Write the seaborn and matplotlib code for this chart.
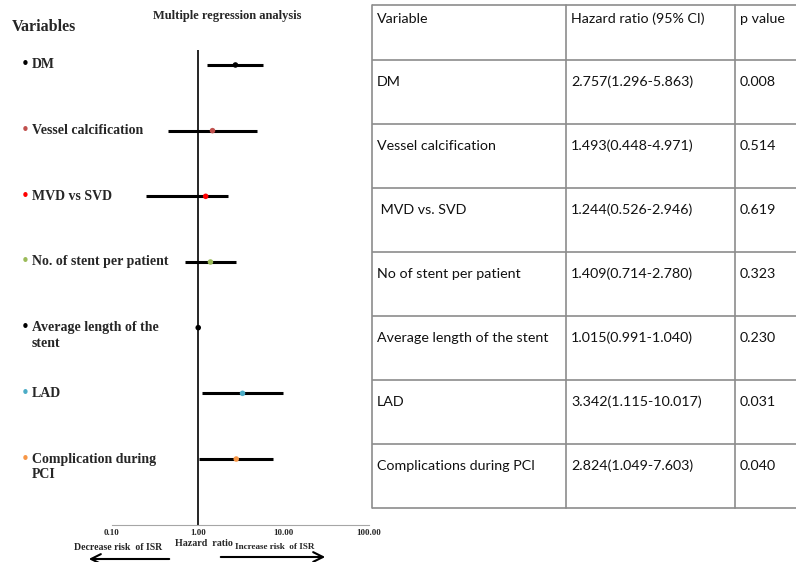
import matplotlib
matplotlib.use("Agg")
import matplotlib.pyplot as plt
import matplotlib.transforms as mtransforms
import pandas as pd
import seaborn as sns

# forest plot values (as drawn)
labels = ["DM", "Vessel calcification", "MVD vs SVD", "No. of stent per patient",
          "Average length of the\nstent", "LAD", "Complication during\nPCI"]
hr = [2.76, 1.49, 1.24, 1.41, 1.015, 3.34, 2.82]
ci_low = [1.30, 0.45, 0.25, 0.71, 0.99, 1.12, 1.05]
ci_high = [5.86, 4.97, 2.25, 2.78, 1.04, 10.02, 7.60]
colors = ["#000000", "#c0504d", "#ff0000", "#9bbb59", "#000000", "#4bacc6", "#f79646"]
x_ticks = [0.1, 1, 10, 100]
x_ticklabels = ["0.10", "1.00", "10.00", "100.00"]

# table values
tab_header = ["Variable", "Hazard ratio (95% CI)", "p value"]
tab_variable = ["DM", "Vessel calcification", " MVD vs. SVD", "No of stent per patient",
                "Average length of the stent", "LAD", "Complications during PCI"]
tab_hr = ["2.757(1.296-5.863)", "1.493(0.448-4.971)", "1.244(0.526-2.946)",
          "1.409(0.714-2.780)", "1.015(0.991-1.040)", "3.342(1.115-10.017)",
          "2.824(1.049-7.603)"]
tab_p = ["0.008", "0.514", "0.619", "0.323", "0.230", "0.031", "0.040"]

W, H = 796, 562
SERIF = "Liberation Serif"
TABLE_FONT = "Lato"

sns.set_style("white")
plt.rcParams['font.family'] = [SERIF, 'DejaVu Sans']

df = pd.DataFrame({"label": labels, "hr": hr, "low": ci_low, "high": ci_high,
                   "row": range(len(labels))})

fig = plt.figure(figsize=(W / 100, H / 100), dpi=100)
ax = fig.add_axes([112 / W, 1 - 525 / H, 257 / W, 475 / H])

# CI lines then points
ax.hlines(df["row"], df["low"], df["high"], color="black", lw=2.2, zorder=2)
sns.scatterplot(data=df, x="hr", y="row", hue="label",
                palette=dict(zip(labels, colors)), s=16, linewidth=0,
                legend=False, ax=ax, zorder=3)
ax.axvline(1, color="black", lw=1.2, zorder=1)

ax.set_xscale("log")
ax.set_xlim(0.1, 100)
ax.set_ylim(7.005, -0.228)
ax.set_xticks(x_ticks)
ax.set_xticklabels(x_ticklabels, fontsize=6.5, fontweight="bold", family=SERIF)
ax.minorticks_off()
ax.set_yticks([])
ax.set_xlabel("")
ax.set_ylabel("")
for side in ["top", "right", "left"]:
    ax.spines[side].set_visible(False)
ax.spines["bottom"].set_color("#a6a6a6")
ax.spines["bottom"].set_linewidth(0.8)
ax.tick_params(axis="x", direction="in", length=3, color="#a6a6a6", pad=3)
ax.patch.set_alpha(0)

# row labels with coloured bullets
trans = mtransforms.blended_transform_factory(fig.transFigure, ax.transData)
for i, (lab, col) in enumerate(zip(labels, colors)):
    ax.text(21 / W, i, "\u2022", color=col, fontsize=11, va="center", ha="left",
            transform=trans, family=["DejaVu Sans"])
    for k, line in enumerate(lab.split("\n")):
        ax.text(32 / W, i + 0.24 * k, line, fontsize=10, fontweight="bold",
                va="center", ha="left", transform=trans, family=SERIF)

fig.text(12 / W, 1 - 27 / H, "Variables", fontsize=11.5, fontweight="bold",
         va="center", ha="left", family=SERIF)
fig.text(227 / W, 1 - 16 / H, "Multiple regression analysis", fontsize=9,
         fontweight="bold", va="center", ha="center", family=SERIF)

# bottom annotations and arrows
fig.text(118 / W, 1 - 547 / H, "Decrease risk  of ISR", fontsize=7, fontweight="bold",
         va="center", ha="center", family=SERIF)
fig.text(204 / W, 1 - 544 / H, "Hazard  ratio", fontsize=7.2, fontweight="bold",
         va="center", ha="center", family=SERIF)
fig.text(275 / W, 1 - 547 / H, "Increase risk  of ISR", fontsize=6.6, fontweight="bold",
         va="center", ha="center", family=SERIF)
fig.add_artist(matplotlib.patches.FancyArrowPatch(
    (172 / W, 1 - 559 / H), (86 / W, 1 - 559 / H), transform=fig.transFigure,
    arrowstyle="->,head_length=7,head_width=3.5", color="black", lw=1.5))
fig.add_artist(matplotlib.patches.FancyArrowPatch(
    (218 / W, 1 - 557 / H), (328 / W, 1 - 557 / H), transform=fig.transFigure,
    arrowstyle="->,head_length=7,head_width=3.5", color="black", lw=1.5))

# table drawn in pixel coordinates
tax = fig.add_axes([0, 0, 1, 1])
tax.set_xlim(0, W)
tax.set_ylim(H, 0)
tax.axis("off")
tax.patch.set_alpha(0)

col_x = [372, 566, 735]
row_y = [5, 60] + [60 + 64 * k for k in range(1, len(tab_variable) + 1)]
line_col = "#8c8c8c"
for y in row_y:
    tax.plot([col_x[0], W], [y, y], color=line_col, lw=1.2, solid_capstyle="butt")
for x in col_x:
    tax.plot([x, x], [row_y[0], row_y[-1]], color=line_col, lw=1.2)

txt_kw = dict(fontsize=10.3, va="center", ha="left", family=[TABLE_FONT, "DejaVu Sans"],
              color="#111111")
for j, h in enumerate(tab_header):
    tax.text(col_x[j] + 5, row_y[0] + 14, h, **txt_kw)
for i in range(len(tab_variable)):
    yc = row_y[i + 1] + 22
    tax.text(col_x[0] + 5, yc, tab_variable[i], **txt_kw)
    tax.text(col_x[1] + 5, yc, tab_hr[i], **txt_kw)
    tax.text(col_x[2] + 5, yc, tab_p[i], **txt_kw)

fig.savefig("out.png", dpi=100)
